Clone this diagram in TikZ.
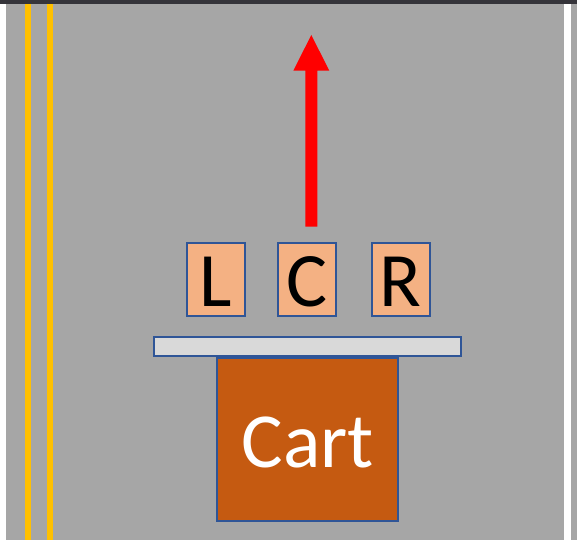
\documentclass[tikz,border=0pt]{standalone}
\usepackage{fontspec}
\setmainfont{Carlito}
\definecolor{road}{HTML}{A6A6A6}
\definecolor{topband}{HTML}{35343A}
\definecolor{laneyellow}{HTML}{FFC000}
\definecolor{sensorfill}{HTML}{F4B183}
\definecolor{edgeblue}{HTML}{2F5597}
\definecolor{bumper}{HTML}{D9D9D9}
\definecolor{cartfill}{HTML}{C55A11}
\tikzset{
  outline/.style={draw=edgeblue, line width=2pt, inner sep=0pt},
  sensorbox/.style={outline, fill=sensorfill, minimum width=58pt, minimum height=73.6pt},
  sensorlabel/.style={anchor=base, inner sep=0pt, font=\fontsize{77}{80}\selectfont, text=black},
}
\begin{document}
\begin{tikzpicture}[x=1pt, y=-1pt]
  \useasboundingbox (0,0) rectangle (577,540);
  % page, road surface and markings
  \fill[white] (0,0) rectangle (577,540);
  \fill[road] (6,4.3) rectangle (577,540);
  \fill[topband] (0,0) rectangle (577,4.3);
  \fill[laneyellow] (25,4.3) rectangle (31,540);
  \fill[laneyellow] (47,4.3) rectangle (53,540);
  \fill[white] (564.3,4.3) rectangle (571,540);
  % direction of travel
  \fill[red] (305.3,226.7) -- (317.3,226.7) -- (317.3,70.7) -- (329.3,70.7)
    -- (311.3,35) -- (293.3,70.7) -- (305.3,70.7) -- cycle;
  % bumper bar
  \node[outline, fill=bumper, minimum width=306.7pt, minimum height=19.3pt]
    (bar) at (307.65,346.35) {};
  % cart body
  \node[outline, fill=cartfill, minimum width=180.7pt, minimum height=163pt]
    (cart) at (307.65,439.8) {};
  \node[anchor=base, inner sep=0pt, text=white, font=\fontsize{78}{82}\selectfont]
    (cartlabel) at (307.8,467.3) {Cart};
  % left, centre and right sensors
  \node[sensorbox] (L) at (215.85,279.5) {};
  \node[sensorbox] (C) at (307.3,279.5) {};
  \node[sensorbox] (R) at (400.85,279.5) {};
  \node[sensorlabel] (Ltext) at (L.center |- 0,306) {L};
  \node[sensorlabel] (Ctext) at (C.center |- 0,306) {C};
  \node[sensorlabel] (Rtext) at (R.center |- 0,306) {R};
\end{tikzpicture}
\end{document}
